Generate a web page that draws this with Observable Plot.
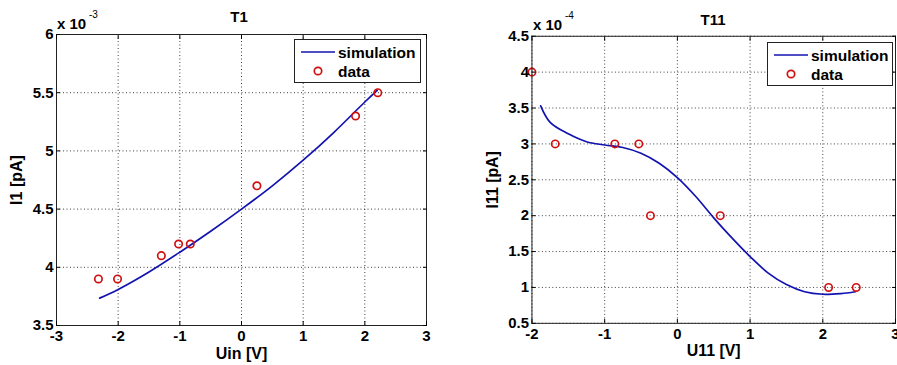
<!DOCTYPE html>
<html><head><meta charset="utf-8">
<script src="https://cdn.jsdelivr.net/npm/d3@7"></script>
<script src="https://cdn.jsdelivr.net/npm/@observablehq/plot@0.6"></script>
<style>
body{margin:0;background:#fff;overflow:hidden}
#root{position:relative;width:897px;height:365px;overflow:hidden;font-family:"Liberation Sans",Arial,sans-serif;font-weight:bold;color:#000;background:#fff}
.panel{position:absolute;top:0}
.t{position:absolute;font-size:15px;line-height:16px;white-space:nowrap}
.sup{position:absolute;font-size:10px;line-height:10px;white-space:nowrap;font-weight:normal}
.legend{position:absolute}
</style></head><body><div id="root"></div>
<script>
// ---- Panel T1 ----
const t1XTicks = [-3, -2, -1, 0, 1, 2, 3];
const t1YTicks = [3.5, 4, 4.5, 5, 5.5, 6];
const t1SimU = [-2.3, -2, -1.5, -1, -0.5, 0, 0.5, 1, 1.5, 2, 2.2];
const t1SimI = [3.735, 3.81, 3.96, 4.13, 4.31, 4.50, 4.70, 4.92, 5.16, 5.42, 5.52];
const t1DataU = [-2.32, -2.01, -1.30, -1.02, -0.83, 0.25, 1.85, 2.21];
const t1DataI = [3.9, 3.9, 4.1, 4.2, 4.2, 4.7, 5.3, 5.5];

// ---- Panel T11 ----
const t11XTicks = [-2, -1, 0, 1, 2, 3];
const t11YTicks = [0.5, 1, 1.5, 2, 2.5, 3, 3.5, 4, 4.5];
const t11SimU = [-1.88, -1.75, -1.5, -1.25, -1, -0.75, -0.5, -0.25, 0, 0.25, 0.5, 0.75, 1, 1.25, 1.5, 1.75, 2, 2.25, 2.45];
const t11SimI = [3.53, 3.30, 3.14, 3.03, 2.985, 2.95, 2.87, 2.73, 2.53, 2.27, 1.97, 1.69, 1.43, 1.20, 1.04, 0.94, 0.905, 0.915, 0.94];
const t11DataU = [-2.0, -1.68, -0.86, -0.53, -0.37, 0.59, 2.08, 2.46];
const t11DataI = [4, 3, 3, 3, 2, 2, 1, 1];

const simColor = "#1212b0";
const dataColor = "#d01010";
const fmt = d => String(d);

function panel(o) {
  const sim = o.simU.map((u, i) => ({u, i: o.simI[i]}));
  const pts = o.dataU.map((u, i) => ({u, i: o.dataI[i]}));
  const grid = {stroke: "#000", strokeOpacity: 0.75, strokeDasharray: "1,2.5"};
  return Plot.plot({
    width: o.width, height: 365,
    marginLeft: o.marginLeft, marginRight: o.marginRight, marginTop: o.marginTop, marginBottom: 40,
    x: {domain: o.xDomain},
    y: {domain: o.yDomain},
    style: {fontFamily: '"Liberation Sans", Arial, sans-serif', fontWeight: "bold", fontSize: "15px", background: "transparent", color: "#000"},
    marks: [
      Plot.gridX(o.xTicks, grid),
      Plot.gridY(o.yTicks, grid),
      Plot.line(sim, {x: "u", y: "i", stroke: simColor, strokeWidth: 1.7, curve: "catmull-rom"}),
      Plot.dot(pts, {x: "u", y: "i", r: 3.7, stroke: dataColor, strokeWidth: 1.7, fill: "none"}),
      Plot.frame({stroke: "#222"}),
      Plot.axisX(o.xTicks, {anchor: "bottom", tickSize: -4, tickPadding: 9, tickFormat: fmt, label: null, fontSize: 15}),
      Plot.axisX(o.xTicks, {anchor: "top", tickSize: -4, tickFormat: () => "", label: null}),
      Plot.axisY(o.yTicks, {anchor: "left", tickSize: -4, tickPadding: 7, tickFormat: fmt, label: null, fontSize: 15}),
      Plot.axisY(o.yTicks, {anchor: "right", tickSize: -4, tickFormat: () => "", label: null}),
      Plot.axisX([], {anchor: "bottom", label: o.xLabel, labelAnchor: "center", labelArrow: "none", labelOffset: 33, fontSize: 16}),
      Plot.axisY([], {anchor: "left", label: o.yLabel, labelAnchor: "center", labelArrow: "none", labelOffset: 46, fontSize: 16})
    ]
  });
}

const root = document.getElementById("root");

function place(el, left) {
  const d = document.createElement("div");
  d.className = "panel";
  d.style.left = left + "px";
  d.appendChild(el);
  root.appendChild(d);
}

place(panel({
  width: 450, marginLeft: 56, marginRight: 24, marginTop: 34,
  xDomain: [-3, 3], yDomain: [3.5, 6], xTicks: t1XTicks, yTicks: t1YTicks,
  simU: t1SimU, simI: t1SimI, dataU: t1DataU, dataI: t1DataI,
  xLabel: "Uin [V]", yLabel: "I1 [pA]"
}), 0);

place(panel({
  width: 450, marginLeft: 82, marginRight: 2, marginTop: 36,
  xDomain: [-2, 3], yDomain: [0.5, 4.5], xTicks: t11XTicks, yTicks: t11YTicks,
  simU: t11SimU, simI: t11SimI, dataU: t11DataU, dataI: t11DataI,
  xLabel: "U11 [V]", yLabel: "I11 [pA]"
}), 450);

function text(cls, str, left, top, center) {
  const s = document.createElement("div");
  s.className = cls;
  s.textContent = str;
  s.style.left = left + "px";
  s.style.top = top + "px";
  if (center) s.style.transform = "translateX(-50%)";
  root.appendChild(s);
}
// titles
text("t", "T1", 239, 9, true);
text("t", "T11", 713, 12, true);
// exponent multipliers
text("t", "x 10", 57, 16);
text("sup", "-3", 89, 10);
text("t", "x 10", 533, 17);
text("sup", "-4", 565, 11);

function legend(left, top, w, h) {
  const svg = d3.create("svg").attr("class", "legend").attr("width", w).attr("height", h)
    .style("left", left + "px").style("top", top + "px");
  svg.append("rect").attr("x", 0.5).attr("y", 0.5).attr("width", w - 1).attr("height", h - 1)
    .attr("fill", "#fff").attr("stroke", "#222");
  svg.append("line").attr("x1", 7).attr("x2", 41).attr("y1", 13).attr("y2", 13)
    .attr("stroke", simColor).attr("stroke-width", 1.7);
  svg.append("circle").attr("cx", 24).attr("cy", 32).attr("r", 3.7)
    .attr("fill", "none").attr("stroke", dataColor).attr("stroke-width", 1.7);
  const tf = '"Liberation Sans", Arial, sans-serif';
  svg.append("text").attr("x", 44).attr("y", 19).text("simulation")
    .attr("font-family", tf).attr("font-weight", "bold").attr("font-size", 15.5);
  svg.append("text").attr("x", 44).attr("y", 38).text("data")
    .attr("font-family", tf).attr("font-weight", "bold").attr("font-size", 15.5);
  root.appendChild(svg.node());
}
legend(294, 39, 127, 44);
legend(767, 42, 126, 44);
</script>
</body></html>
